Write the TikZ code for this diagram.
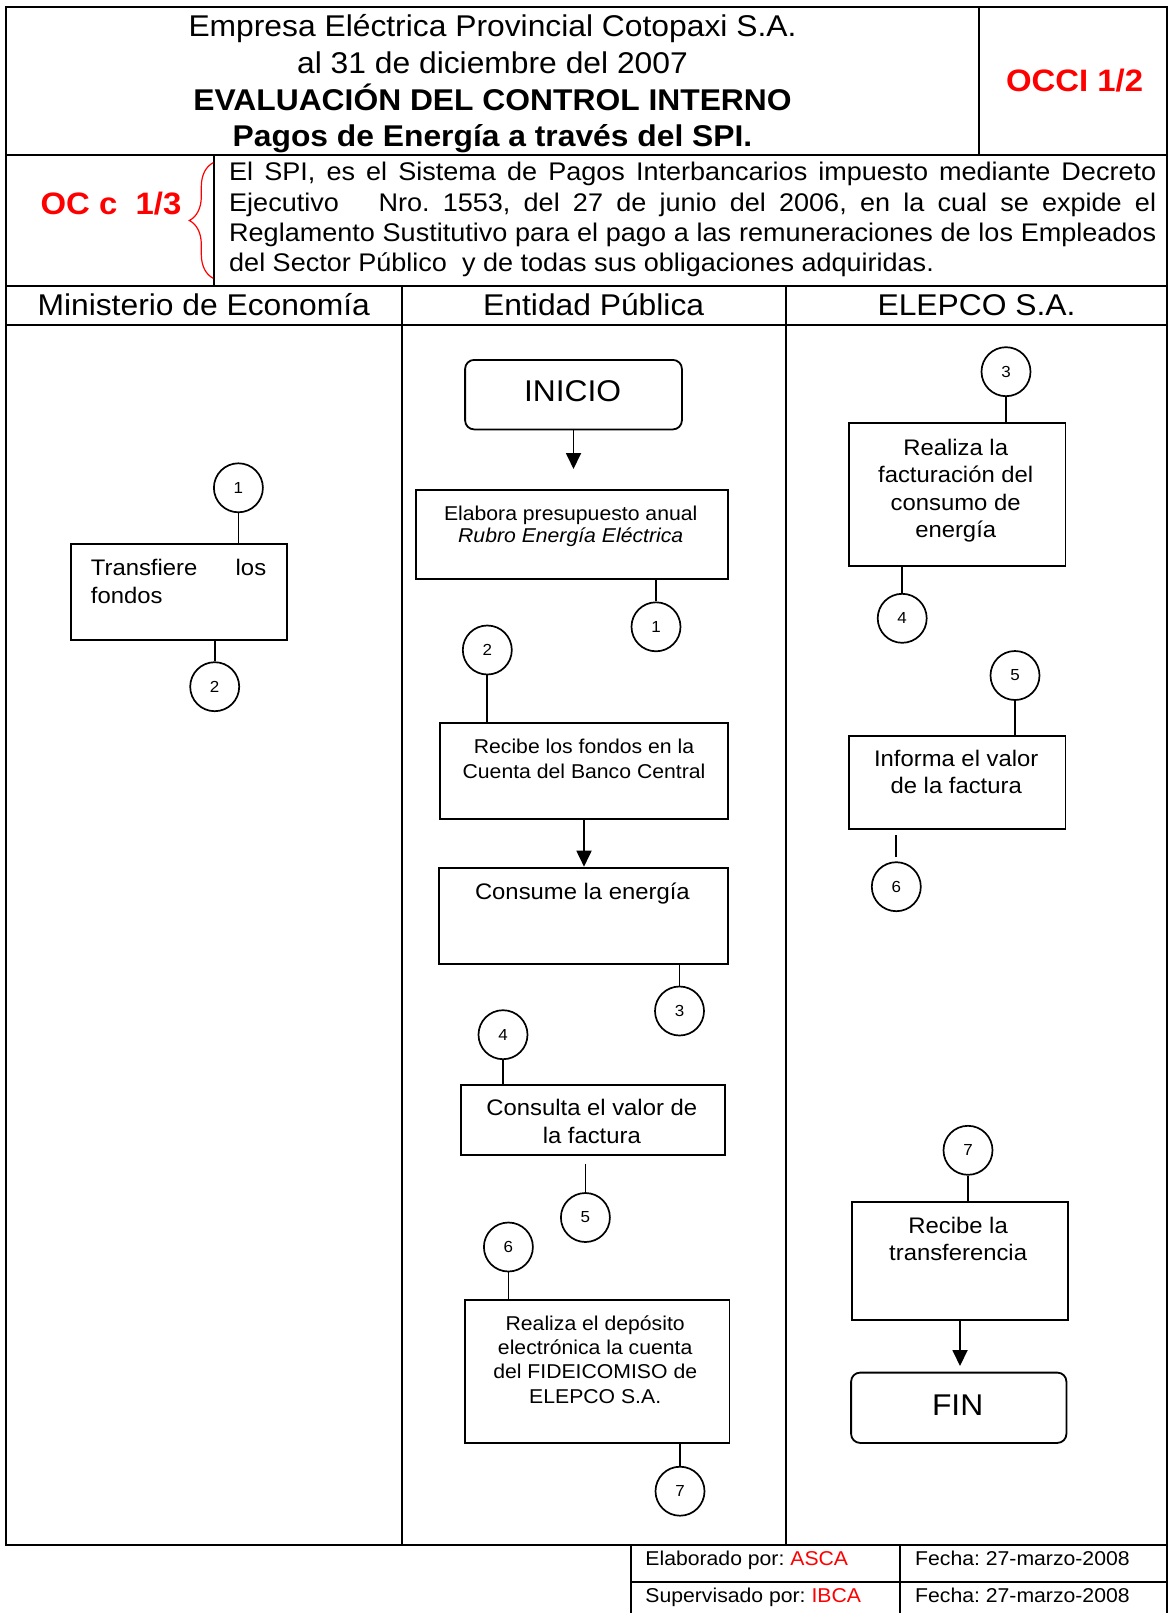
\documentclass[tikz,border=0pt]{standalone}
\usepackage{fontspec}
\setmainfont{Liberation Sans}[FakeStretch=1.06]
\usetikzlibrary{arrows.meta,decorations.pathreplacing,calc}
\newcommand{\mlines}[1]{\begin{tabular}[t]{@{}c@{}}#1\end{tabular}}
\newcommand{\fs}[2]{\fontsize{#1}{#2}\selectfont}
\frenchspacing
\begin{document}
\begin{tikzpicture}[x=1pt,y=-1pt,
  frame/.style={line width=2pt},
  boxnode/.style={draw, line width=1.8pt, inner sep=0pt, anchor=north west},
  term/.style={boxnode, rounded corners=9pt},
  conn/.style={draw, circle, line width=1.7pt, minimum size=49pt, inner sep=0pt, font=\fs{16}{19}},
  link/.style={line width=1.8pt},
  flow/.style={line width=1.8pt, -{Triangle[width=15pt,length=16pt]}},
  txt/.style={inner sep=0pt, anchor=base},
  big/.style={font=\fs{22.5}{27.5}},
  small/.style={font=\fs{20}{24}},
  head/.style={font=\fs{30}{36}},
]
\useasboundingbox (0,0) rectangle (1169,1613);

% ---------- frame ----------
\draw[frame] (6,7.3) rectangle (1167,1545);
\draw[frame] (6,155) -- (1167,155);
\draw[frame] (6,286) -- (1167,286);
\draw[frame] (6,325) -- (1167,325);
\draw[frame] (979,7.3) -- (979,155);
\draw[frame] (214,155) -- (214,286);
\draw[frame] (401.5,286) -- (401.5,1545);
\draw[frame] (786,286) -- (786,1545);
\draw[frame] (630.5,1545) -- (630.5,1613);
\draw[frame] (900.2,1545) -- (900.2,1613);
\draw[frame] (630.5,1581.7) -- (1167,1581.7);
\draw[frame] (1167,1545) -- (1167,1613);

% ---------- title ----------
\node[txt, head] (ti1) at (492.5,36.7) {Empresa Eléctrica Provincial Cotopaxi S.A.};
\node[txt, head] (ti2) at (492.5,74) {al 31 de diciembre del 2007};
\node[txt, font=\fs{30}{36}\bfseries] (ti3) at (492.5,111) {EVALUACIÓN DEL CONTROL INTERNO};
\node[txt, font=\fs{30}{36}\bfseries] (ti4) at (492.5,146.7) {Pagos de Energía a través del SPI.};
\node[txt, font=\fs{31}{36}\bfseries, text=red] (occi) at (1074.6,91.7) {OCCI 1/2};

% ---------- description ----------
\node[txt, font=\fs{31}{36}\bfseries, text=red] (occ) at (111,215) {OC c\ \ 1/3};
\draw[red, line width=1.2pt, decorate, decoration={brace, amplitude=24pt}] (213.3,278.3) -- (213.3,162.7);
\node[txt, anchor=base west, font=\fs{25.5}{30.5}] (p1) at (229,180.7)
  {\makebox[927pt][s]{El SPI, es el Sistema de Pagos Interbancarios impuesto mediante Decreto}};
\node[txt, anchor=base west, font=\fs{25.5}{30.5}] (p2) at (229,211.2)
  {\makebox[927pt][s]{Ejecutivo\ \ \ Nro. 1553, del 27 de junio del 2006, en la cual se expide el}};
\node[txt, anchor=base west, font=\fs{25.5}{30.5}] (p3) at (229,241.7)
  {\makebox[927pt][s]{Reglamento Sustitutivo para el pago a las remuneraciones de los Empleados}};
\node[txt, anchor=base west, font=\fs{25.5}{30.5}] (p4) at (229,271.7)
  {del Sector Público\ \ y de todas sus obligaciones adquiridas.};

% ---------- lane headers ----------
\node[txt, head] (h1) at (203.7,315) {Ministerio de Economía};
\node[txt, head] (h2) at (593.7,315) {Entidad Pública};
\node[txt, head] (h3) at (976.5,315) {ELEPCO S.A.};

% ---------- boxes ----------
\node[boxnode, minimum width=216.6pt, minimum height=96.3pt] (bT) at (69.7,542.7) {};
\node[term, minimum width=216.8pt, minimum height=69.5pt] (inicio) at (464.2,359) {};
\node[boxnode, minimum width=311.8pt, minimum height=88.7pt] (bE) at (415.2,489) {};
\node[boxnode, minimum width=287.8pt, minimum height=95.4pt] (bR) at (439.2,722.3) {};
\node[boxnode, minimum width=288.7pt, minimum height=96pt] (bC) at (438.3,866.7) {};
\node[boxnode, minimum width=263.4pt, minimum height=70pt] (bQ) at (460.3,1084) {};
\node[boxnode, minimum width=264.8pt, minimum height=143.3pt] (bD) at (463.8,1299) {};
\node[boxnode, minimum width=216.7pt, minimum height=142.7pt] (bF) at (847.8,422.3) {};
\node[boxnode, minimum width=216.7pt, minimum height=93.3pt] (bI) at (847.8,735) {};
\node[boxnode, minimum width=215.8pt, minimum height=118pt] (bL) at (851.2,1200.7) {};
\node[term, minimum width=215.3pt, minimum height=70.3pt] (fin) at (850.2,1371.7) {};

% ---------- box texts ----------
\node[txt, anchor=base west, big] (tT1) at (90.7,575) {\makebox[175.3pt][s]{Transfiere los}};
\node[txt, anchor=base west, big] (tT2) at (90.7,603.3) {fondos};
\node[txt, font=\fs{30}{36}] (tInicio) at (572.6,401.7) {INICIO};
\node[txt, font=\fs{20}{22.7}] (tE) at (570.7,520) {\mlines{Elabora presupuesto anual\\\textit{Rubro Energía Eléctrica}}};
\node[txt, font=\fs{20}{25}] (tR) at (584,753.3) {\mlines{Recibe los fondos en la\\Cuenta del Banco Central}};
\node[txt, big] (tC) at (582.4,899.3) {Consume la energía};
\node[txt, font=\fs{22.5}{28.3}] (tQ) at (591.8,1115) {\mlines{Consulta el valor de\\la factura}};
\node[txt, font=\fs{20}{24.4}] (tD) at (595.2,1330) {\mlines{Realiza el depósito\\electrónica la cuenta\\del FIDEICOMISO de\\ELEPCO S.A.}};
\node[txt, font=\fs{22.5}{27.5}] (tF) at (955.7,455) {\mlines{Realiza la\\facturación del\\consumo de\\energía}};
\node[txt, font=\fs{22.5}{26.7}] (tI) at (956.2,766.7) {\mlines{Informa el valor\\de la factura}};
\node[txt, font=\fs{22.5}{26.7}] (tL) at (958.1,1233.3) {\mlines{Recibe la\\transferencia}};
\node[txt, font=\fs{30}{36}] (tFin) at (957.6,1415) {FIN};

% ---------- connectors ----------
\node[conn] (m1) at (238.4,487.8) {1};
\node[conn] (m2) at (214.7,686.7) {2};
\node[conn] (e1) at (656,626.8) {1};
\node[conn] (e2) at (487.3,650) {2};
\node[conn] (e3) at (679.5,1011) {3};
\node[conn] (e4) at (503,1034.7) {4};
\node[conn] (e5) at (585.4,1217.5) {5};
\node[conn] (e6) at (508.4,1247) {6};
\node[conn] (e7) at (680,1491.2) {7};
\node[conn] (l3) at (1006,371.7) {3};
\node[conn] (l4) at (902.2,618.3) {4};
\node[conn] (l5) at (1015,675.5) {5};
\node[conn] (l6) at (896.3,886.7) {6};
\node[conn] (l7) at (968,1150.3) {7};

% ---------- lines ----------
\draw[link] (m1) -- (m1 |- bT.north);
\draw[link] (bT.south -| m2) -- (m2);
\draw[flow] (inicio.south) -- ($(inicio.south |- bE.north)+(0,-20)$);
\draw[link] (bE.south -| e1) -- (e1);
\draw[link] (e2) -- (e2 |- bR.north);
\draw[flow] (bR.south) -- (bR.south |- bC.north);
\draw[link] (bC.south -| e3) -- (e3);
\draw[link] (e4) -- (e4 |- bQ.north);
\draw[link, shorten <=8pt] (bQ.south -| e5) -- (e5);
\draw[link] (e6) -- (e6 |- bD.north);
\draw[link] (bD.south -| e7) -- (e7);
\draw[link] (l3) -- (l3 |- bF.north);
\draw[link] (bF.south -| l4) -- (l4);
\draw[link] (l5) -- (l5 |- bI.north);
\draw[link, shorten <=5pt, shorten >=4pt] (bI.south -| l6) -- (l6);
\draw[link] (l7) -- (l7 |- bL.north);
\draw[flow] (bL.south) -- ($(bL.south |- fin.north)+(0,-5.7)$);

% ---------- footer ----------
\node[txt, anchor=base west, font=\fs{20}{24}] (f1) at (645.2,1565) {Elaborado por: \textcolor{red}{ASCA}};
\node[txt, anchor=base west, font=\fs{20}{24}] (f2) at (915,1565) {Fecha: 27-marzo-2008};
\node[txt, anchor=base west, font=\fs{20}{24}] (f3) at (645.2,1602.7) {Supervisado por: \textcolor{red}{IBCA}};
\node[txt, anchor=base west, font=\fs{20}{24}] (f4) at (915,1602.7) {Fecha: 27-marzo-2008};
\end{tikzpicture}
\end{document}
